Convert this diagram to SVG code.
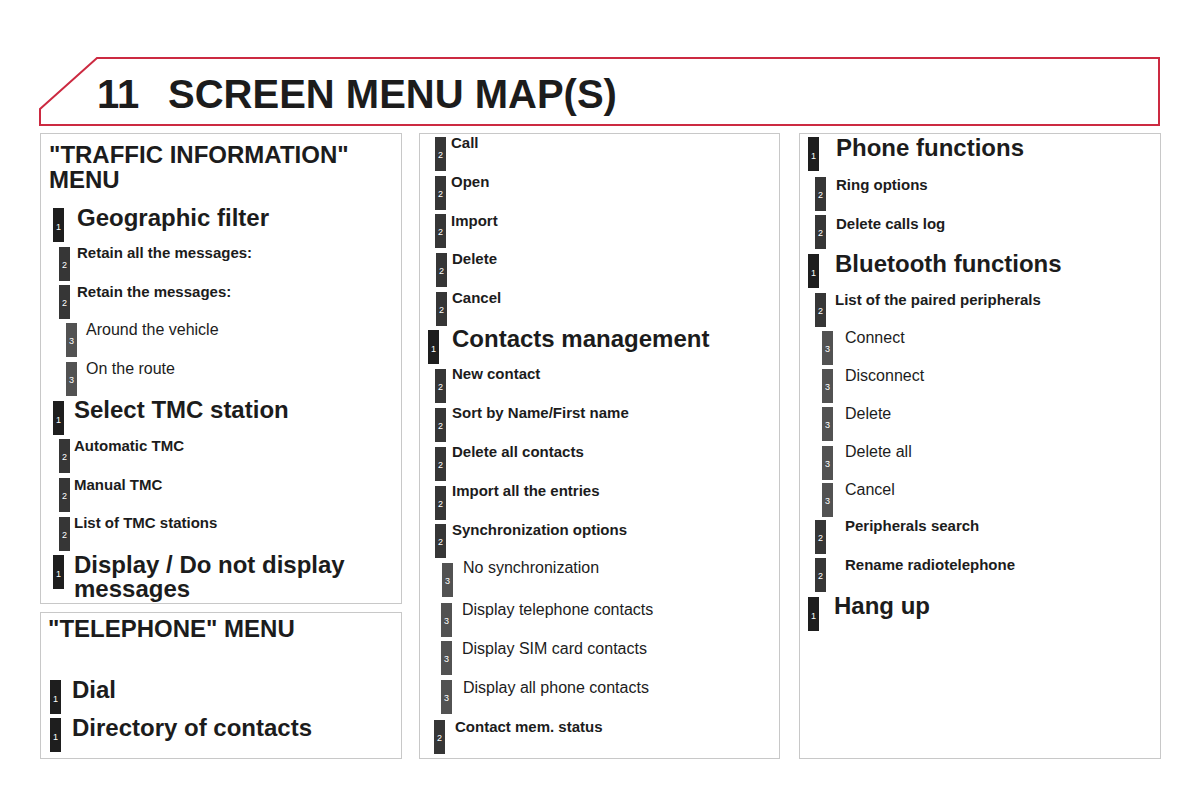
<svg xmlns="http://www.w3.org/2000/svg" width="1200" height="800" viewBox="0 0 1200 800">
<style>
text{font-family:"Liberation Sans",Arial,sans-serif;fill:#1c1c1c}
.h{font-size:40px;font-weight:bold}
.mh{font-size:24px;font-weight:bold}
.t1{font-size:24px;font-weight:bold}
.t2{font-size:15px;font-weight:bold}
.t3{font-size:16px}
.b1{fill:#1e1e1e}
.b2{fill:#363636}
.b3{fill:#525252}
.n{font-size:9px;fill:#ffffff;text-anchor:middle}
.panel{fill:#ffffff;stroke:#c8c8c8;stroke-width:1}
</style>
<rect width="1200" height="800" fill="#ffffff"/>
<g id="header">
<polygon points="40,109 97,58 1159,58 1159,125 40,125" fill="#ffffff" stroke="#cc2a41" stroke-width="2"/>
<text class="h" x="97" y="108">11</text>
<text class="h" x="168" y="108">SCREEN MENU MAP(S)</text>
</g>
<g id="panels">
<rect class="panel" x="40.5" y="133.5" width="361" height="470"/>
<rect class="panel" x="40.5" y="612.5" width="361" height="146"/>
<rect class="panel" x="419.5" y="133.5" width="360" height="625"/>
<rect class="panel" x="799.5" y="133.5" width="361" height="625"/>
</g>
<g id="traffic-menu">
<text class="mh" x="49" y="163">"TRAFFIC INFORMATION"<tspan x="49" y="188">MENU</tspan></text>
<g id="geo"><rect class="b1" x="53" y="208" width="11" height="34"/><text class="n" x="58.5" y="230">1</text><text class="t1" x="77" y="226">Geographic filter</text></g>
<g id="retain-all"><rect class="b2" x="59" y="247" width="11" height="34"/><text class="n" x="64.5" y="268">2</text><text class="t2" x="77" y="258">Retain all the messages:</text></g>
<g id="retain"><rect class="b2" x="59" y="285" width="11" height="34"/><text class="n" x="64.5" y="306">2</text><text class="t2" x="77" y="297">Retain the messages:</text></g>
<g id="around"><rect class="b3" x="66" y="323" width="11" height="34"/><text class="n" x="71.5" y="344">3</text><text class="t3" x="86" y="335">Around the vehicle</text></g>
<g id="route"><rect class="b3" x="66" y="362" width="11" height="34"/><text class="n" x="71.5" y="383">3</text><text class="t3" x="86" y="374">On the route</text></g>
<g id="tmc"><rect class="b1" x="53" y="401" width="11" height="34"/><text class="n" x="58.5" y="423">1</text><text class="t1" x="74" y="418">Select TMC station</text></g>
<g id="auto-tmc"><rect class="b2" x="59" y="439" width="11" height="34"/><text class="n" x="64.5" y="460">2</text><text class="t2" x="74" y="451">Automatic TMC</text></g>
<g id="manual-tmc"><rect class="b2" x="59" y="478" width="11" height="34"/><text class="n" x="64.5" y="499">2</text><text class="t2" x="74" y="490">Manual TMC</text></g>
<g id="list-tmc"><rect class="b2" x="59" y="517" width="11" height="34"/><text class="n" x="64.5" y="538">2</text><text class="t2" x="74" y="528">List of TMC stations</text></g>
<g id="display-msg"><rect class="b1" x="53" y="555" width="11" height="34"/><text class="n" x="58.5" y="577">1</text><text class="t1" x="74" y="573">Display / Do not display<tspan x="74" y="597">messages</tspan></text></g>
</g>
<g id="telephone-menu">
<text class="mh" x="48" y="637">"TELEPHONE" MENU</text>
<g id="dial"><rect class="b1" x="50" y="680" width="11" height="34"/><text class="n" x="55.5" y="702">1</text><text class="t1" x="72" y="698">Dial</text></g>
<g id="directory"><rect class="b1" x="50" y="718" width="11" height="34"/><text class="n" x="55.5" y="740">1</text><text class="t1" x="72" y="736">Directory of contacts</text></g>
</g>
<g id="middle-column">
<g id="call"><rect class="b2" x="435" y="137" width="11" height="34"/><text class="n" x="440.5" y="158">2</text><text class="t2" x="451" y="148">Call</text></g>
<g id="open"><rect class="b2" x="435" y="176" width="11" height="34"/><text class="n" x="440.5" y="197">2</text><text class="t2" x="451" y="187">Open</text></g>
<g id="import"><rect class="b2" x="435" y="214" width="11" height="34"/><text class="n" x="440.5" y="235">2</text><text class="t2" x="451" y="226">Import</text></g>
<g id="delete"><rect class="b2" x="436" y="253" width="11" height="34"/><text class="n" x="441.5" y="274">2</text><text class="t2" x="452" y="264">Delete</text></g>
<g id="cancel"><rect class="b2" x="436" y="292" width="11" height="34"/><text class="n" x="441.5" y="313">2</text><text class="t2" x="452" y="303">Cancel</text></g>
<g id="contacts-mgmt"><rect class="b1" x="428" y="330" width="11" height="34"/><text class="n" x="433.5" y="352">1</text><text class="t1" x="452" y="347">Contacts management</text></g>
<g id="new-contact"><rect class="b2" x="435" y="369" width="11" height="34"/><text class="n" x="440.5" y="390">2</text><text class="t2" x="452" y="379">New contact</text></g>
<g id="sort"><rect class="b2" x="435" y="408" width="11" height="34"/><text class="n" x="440.5" y="429">2</text><text class="t2" x="452" y="418">Sort by Name/First name</text></g>
<g id="delete-all-contacts"><rect class="b2" x="435" y="447" width="11" height="34"/><text class="n" x="440.5" y="468">2</text><text class="t2" x="452" y="457">Delete all contacts</text></g>
<g id="import-all"><rect class="b2" x="435" y="486" width="11" height="34"/><text class="n" x="440.5" y="507">2</text><text class="t2" x="452" y="496">Import all the entries</text></g>
<g id="sync"><rect class="b2" x="435" y="524" width="11" height="34"/><text class="n" x="440.5" y="545">2</text><text class="t2" x="452" y="535">Synchronization options</text></g>
<g id="no-sync"><rect class="b3" x="442" y="563" width="11" height="34"/><text class="n" x="447.5" y="584">3</text><text class="t3" x="463" y="573">No synchronization</text></g>
<g id="disp-tel"><rect class="b3" x="441" y="603" width="11" height="34"/><text class="n" x="446.5" y="624">3</text><text class="t3" x="462" y="615">Display telephone contacts</text></g>
<g id="disp-sim"><rect class="b3" x="441" y="641" width="11" height="34"/><text class="n" x="446.5" y="662">3</text><text class="t3" x="462" y="654">Display SIM card contacts</text></g>
<g id="disp-all"><rect class="b3" x="441" y="680" width="11" height="34"/><text class="n" x="446.5" y="701">3</text><text class="t3" x="463" y="693">Display all phone contacts</text></g>
<g id="mem-status"><rect class="b2" x="434" y="720" width="11" height="34"/><text class="n" x="439.5" y="741">2</text><text class="t2" x="455" y="732">Contact mem. status</text></g>
</g>
<g id="right-column">
<g id="phone-functions"><rect class="b1" x="808" y="137" width="11" height="34"/><text class="n" x="813.5" y="159">1</text><text class="t1" x="836" y="156">Phone functions</text></g>
<g id="ring"><rect class="b2" x="815" y="177" width="11" height="34"/><text class="n" x="820.5" y="198">2</text><text class="t2" x="836" y="190">Ring options</text></g>
<g id="delete-log"><rect class="b2" x="815" y="215" width="11" height="34"/><text class="n" x="820.5" y="236">2</text><text class="t2" x="836" y="229">Delete calls log</text></g>
<g id="bluetooth"><rect class="b1" x="808" y="254" width="11" height="34"/><text class="n" x="813.5" y="276">1</text><text class="t1" x="835" y="272">Bluetooth functions</text></g>
<g id="paired"><rect class="b2" x="815" y="293" width="11" height="34"/><text class="n" x="820.5" y="314">2</text><text class="t2" x="835" y="305">List of the paired peripherals</text></g>
<g id="connect"><rect class="b3" x="822" y="331" width="11" height="34"/><text class="n" x="827.5" y="352">3</text><text class="t3" x="845" y="343">Connect</text></g>
<g id="disconnect"><rect class="b3" x="822" y="369" width="11" height="34"/><text class="n" x="827.5" y="390">3</text><text class="t3" x="845" y="381">Disconnect</text></g>
<g id="bt-delete"><rect class="b3" x="822" y="407" width="11" height="34"/><text class="n" x="827.5" y="428">3</text><text class="t3" x="845" y="419">Delete</text></g>
<g id="bt-delete-all"><rect class="b3" x="822" y="446" width="11" height="34"/><text class="n" x="827.5" y="467">3</text><text class="t3" x="845" y="457">Delete all</text></g>
<g id="bt-cancel"><rect class="b3" x="822" y="483" width="11" height="34"/><text class="n" x="827.5" y="504">3</text><text class="t3" x="845" y="495">Cancel</text></g>
<g id="periph-search"><rect class="b2" x="815" y="520" width="11" height="34"/><text class="n" x="820.5" y="541">2</text><text class="t2" x="845" y="531">Peripherals search</text></g>
<g id="rename"><rect class="b2" x="815" y="558" width="11" height="34"/><text class="n" x="820.5" y="579">2</text><text class="t2" x="845" y="570">Rename radiotelephone</text></g>
<g id="hang-up"><rect class="b1" x="808" y="597" width="11" height="34"/><text class="n" x="813.5" y="619">1</text><text class="t1" x="834" y="614">Hang up</text></g>
</g>
<g id="connectors"/>
</svg>
